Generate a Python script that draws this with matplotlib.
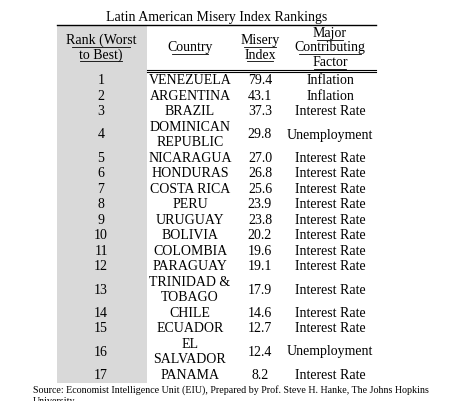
import matplotlib
matplotlib.use("Agg")
import matplotlib.pyplot as plt
from matplotlib.patches import Rectangle

ranks = list(range(1, 18))
countries = ["VENEZUELA", "ARGENTINA", "BRAZIL", "DOMINICAN\nREPUBLIC", "NICARAGUA",
             "HONDURAS", "COSTA RICA", "PERU", "URUGUAY", "BOLIVIA", "COLOMBIA",
             "PARAGUAY", "TRINIDAD &\nTOBAGO", "CHILE", "ECUADOR", "EL\nSALVADOR", "PANAMA"]
misery = [79.4, 43.1, 37.3, 29.8, 27.0, 26.8, 25.6, 23.9, 23.8, 20.2, 19.6, 19.1,
          17.9, 14.6, 12.7, 12.4, 8.2]
factors = ["Inflation", "Inflation", "Interest Rate", "Unemployment", "Interest Rate",
           "Interest Rate", "Interest Rate", "Interest Rate", "Interest Rate",
           "Interest Rate", "Interest Rate", "Interest Rate", "Interest Rate",
           "Interest Rate", "Interest Rate", "Unemployment", "Interest Rate"]

plt.rcParams['font.family'] = ['Liberation Serif', 'DejaVu Serif']
fig = plt.figure(figsize=(4.59, 4.01), dpi=100)
ax = fig.add_axes([0, 0, 1, 1])
ax.set_xlim(0, 459)
ax.set_ylim(401, 0)
ax.axis('off')

fs = 10
x0, x1 = 57, 376
cols = [101, 190, 260, 330]
top, head_bot = 25, 71
unit = 15.5
body_top = 73
n_units = sum(2 if "\n" in c else 1 for c in countries)
table_bot = body_top + n_units * unit

# gray rank column
ax.add_patch(Rectangle((x0, top), 90, table_bot - top, color='#d9d9d9', lw=0))

ax.text((x0 + x1) / 2, 17, "Latin American Misery Index Rankings", ha='center', va='center', fontsize=fs)
ax.plot([x0, x1], [top, top], color='black', lw=1)
ax.plot([x0 + 90, x1], [head_bot - 1, head_bot - 1], color='black', lw=0.8)
ax.plot([x0 + 90, x1], [head_bot + 1, head_bot + 1], color='black', lw=0.8)

headers = ["Rank (Worst\nto Best)", "Country", "Misery\nIndex", "Major\nContributing\nFactor"]
for x, h in zip(cols, headers):
    lines = h.split("\n")
    nl = len(lines)
    for i, ln in enumerate(lines):
        yc = (top + head_bot) / 2 + (i - (nl - 1) / 2) * 14.5
        ax.text(x, yc, ln, ha='center', va='center', fontsize=fs)
        w = len(ln) * 5.2
        ax.plot([x - w / 2, x + w / 2], [yc + 6, yc + 6], color='black', lw=0.6)

y = body_top
for r, c, m, f in zip(ranks, countries, misery, factors):
    h = unit * (2 if "\n" in c else 1)
    yc = y + h / 2
    ax.text(cols[0], yc, str(r), ha='center', va='center', fontsize=fs)
    parts = c.split("\n")
    for i, p in enumerate(parts):
        ax.text(cols[1], yc + (i - (len(parts) - 1) / 2) * unit, p,
                ha='center', va='center', fontsize=fs)
    ax.text(cols[2], yc, f"{m:.1f}", ha='center', va='center', fontsize=fs)
    ax.text(cols[3], yc, f, ha='center', va='center', fontsize=fs)
    y += h

ax.text(33, table_bot + 7, "Source: Economist Intelligence Unit (EIU), Prepared by Prof. Steve H. Hanke, The Johns Hopkins",
        ha='left', va='center', fontsize=7.2)
ax.text(33, table_bot + 19, "University.", ha='left', va='center', fontsize=7.2)

fig.savefig("out.png", dpi=100, facecolor='white')
